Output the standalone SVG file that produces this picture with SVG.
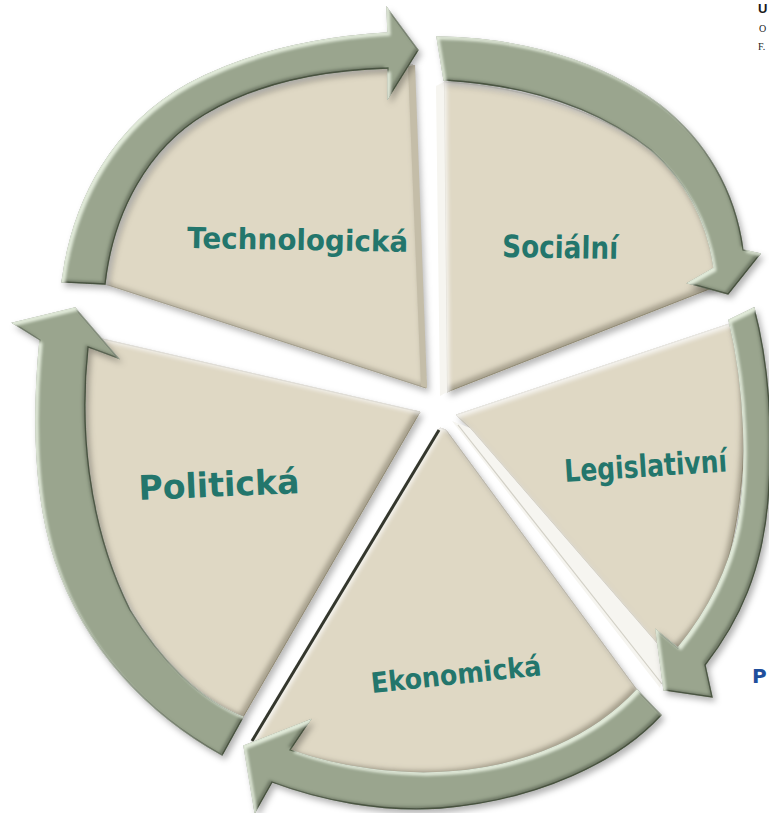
<svg xmlns="http://www.w3.org/2000/svg" width="769" height="813" viewBox="0 0 769 813">
<defs>
<style>
.slice{fill:#dfd8c4;stroke:#b3ac95;stroke-width:1}
.band{fill:#9aa58e;stroke:#56624e;stroke-width:1.3;stroke-linejoin:miter}
.lbl{font-family:"DejaVu Sans","Liberation Sans",sans-serif;font-weight:bold;fill:#23766c}
.side-dark{fill:#c4bda8}
.side-light{fill:#f6f5f0}
</style>
<filter id="fs" x="-10%" y="-10%" width="125%" height="125%">
<feOffset in="SourceAlpha" dx="-4" dy="-4" result="o1"/>
<feGaussianBlur in="o1" stdDeviation="2.5" result="b1"/>
<feComposite in="SourceAlpha" in2="b1" operator="out" result="e1"/>
<feFlood flood-color="#6d6650" flood-opacity="0.6"/>
<feComposite in2="e1" operator="in" result="dark"/>
<feOffset in="SourceAlpha" dx="3" dy="3" result="o2"/>
<feGaussianBlur in="o2" stdDeviation="2" result="b2"/>
<feComposite in="SourceAlpha" in2="b2" operator="out" result="e2"/>
<feFlood flood-color="#ffffff" flood-opacity="0.7"/>
<feComposite in2="e2" operator="in" result="light"/>
<feGaussianBlur in="SourceAlpha" stdDeviation="3" result="sb"/>
<feOffset in="sb" dx="3" dy="4" result="so"/>
<feFlood flood-color="#000" flood-opacity="0.28"/>
<feComposite in2="so" operator="in" result="shadow"/>
<feMerge><feMergeNode in="shadow"/><feMergeNode in="SourceGraphic"/><feMergeNode in="dark"/><feMergeNode in="light"/></feMerge>
</filter>
<filter id="fb" x="-10%" y="-10%" width="125%" height="125%">
<feOffset in="SourceAlpha" dx="-3" dy="-3" result="o1"/>
<feGaussianBlur in="o1" stdDeviation="1.5" result="b1"/>
<feComposite in="SourceAlpha" in2="b1" operator="out" result="e1"/>
<feFlood flood-color="#3c4535" flood-opacity="0.6"/>
<feComposite in2="e1" operator="in" result="dark"/>
<feOffset in="SourceAlpha" dx="3" dy="3" result="o2"/>
<feGaussianBlur in="o2" stdDeviation="1.5" result="b2"/>
<feComposite in="SourceAlpha" in2="b2" operator="out" result="e2"/>
<feFlood flood-color="#eef7e6" flood-opacity="0.85"/>
<feComposite in2="e2" operator="in" result="light"/>
<feGaussianBlur in="SourceAlpha" stdDeviation="3" result="sb"/>
<feOffset in="sb" dx="3" dy="4" result="so"/>
<feFlood flood-color="#000" flood-opacity="0.3"/>
<feComposite in2="so" operator="in" result="shadow"/>
<feMerge><feMergeNode in="shadow"/><feMergeNode in="SourceGraphic"/><feMergeNode in="dark"/><feMergeNode in="light"/></feMerge>
</filter>
</defs>
<rect width="769" height="813" fill="#ffffff"/>

<g id="node-technologicka">
<path class="slice" filter="url(#fs)" d="M426,388 L105,284 C113,212 148,148 205,114 C255,84 320,68 413,65 Z"/>
<path class="side-dark" d="M408,66 L415,65 L427,388 L421,386 Z"/>
<text class="lbl" x="187" y="248" font-size="29" textLength="221" lengthAdjust="spacingAndGlyphs" transform="rotate(1 187 248)">Technologická</text>
</g>

<g id="node-socialni">
<path class="slice" filter="url(#fs)" d="M447,392 L444,82 C530,87 610,115 665,160 C700,195 716,240 722,284 Z"/>
<path class="side-light" d="M436,86 L444,82 L447,392 L440,396 Z"/>
<text class="lbl" x="502" y="257" font-size="31" textLength="116" lengthAdjust="spacingAndGlyphs" transform="rotate(1 502 257)">Sociální</text>
</g>

<g id="node-legislativni">
<path class="slice" filter="url(#fs)" d="M456,415 L735,322 C750,400 746,490 728,560 C714,605 695,635 668,656 L470,428 Z"/>
<path class="side-light" d="M452,421 L470,428 L668,656 L660,688 Z"/>
<path d="M458,425 L662,684" stroke="#d2d0c6" stroke-width="1.2" fill="none"/>
<text class="lbl" x="565" y="482" font-size="31" textLength="163" lengthAdjust="spacingAndGlyphs" transform="rotate(-3.7 565 482)">Legislativní</text>
</g>

<g id="node-ekonomicka">
<path class="slice" filter="url(#fs)" d="M440,428 L252,742 C320,765 390,777 450,773 C530,767 595,735 637,690 L446,430 Z"/>
<path d="M439,430 L252,741" stroke="#34372d" stroke-width="3" fill="none"/>
<text class="lbl" x="372" y="693" font-size="28" textLength="171" lengthAdjust="spacingAndGlyphs" transform="rotate(-6 372 693)">Ekonomická</text>
</g>

<g id="node-politicka">
<path class="slice" filter="url(#fs)" d="M420,412 L85,335 C75,430 85,530 130,610 C160,660 200,700 243,717 Z"/>
<text class="lbl" x="139" y="500" font-size="34" textLength="161" lengthAdjust="spacingAndGlyphs" transform="rotate(-2.5 139 500)">Politická</text>
</g>

<g id="connectors">
<path id="arrow-tech-soc" class="band" filter="url(#fb)" d="M62,282 C73,196 116,124 188,84 C248,52 320,37 388,33 L387,8 L418,50 L388,98 L388,68 C320,70 255,84 205,114 C148,148 113,212 105,284 Z"/>
<path id="arrow-soc-leg" class="band" filter="url(#fb)" d="M437,37 C520,38 600,60 660,105 C705,140 735,190 743,250 L760,254 L728,294 L688,283 L714,268 C708,225 690,185 651,150 C600,110 530,85 444,80 Z"/>
<path id="arrow-leg-eko" class="band" filter="url(#fb)" d="M754,308 C768,360 774,430 768,500 C762,570 740,620 705,665 L712,697 L664,690 L656,630 L678,648 C705,615 728,575 738,525 C748,470 746,390 729,320 Z"/>
<path id="arrow-eko-pol" class="band" filter="url(#fb)" d="M637,690 L661,715 C620,760 540,800 440,808 C380,812 320,800 272,782 L255,812 L244,746 L310,720 L290,750 C340,768 400,776 450,772 C530,766 595,735 637,690 Z"/>
<path id="arrow-pol-tech" class="band" filter="url(#fb)" d="M222,755 C150,715 85,650 55,560 C35,500 32,420 40,340 L13,323 L75,308 L118,358 L88,347 C80,420 85,520 130,610 C160,660 200,700 243,717 Z"/>
</g>

<g id="edge-text">
<text x="758" y="13" font-family="'Liberation Sans',sans-serif" font-weight="bold" font-size="13" fill="#1a1a1a">U</text>
<text x="759" y="32" font-family="'Liberation Serif',serif" font-size="10" fill="#222">O</text>
<text x="758" y="50" font-family="'Liberation Serif',serif" font-size="10" fill="#222">F.</text>
<text x="752" y="683" font-family="'DejaVu Sans','Liberation Sans',sans-serif" font-weight="bold" font-size="20" fill="#1f4f9c">P</text>
</g>
</svg>
